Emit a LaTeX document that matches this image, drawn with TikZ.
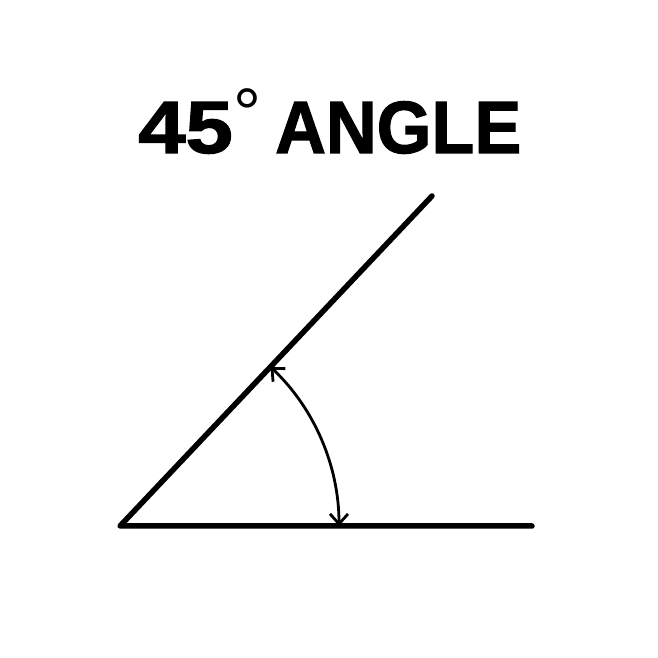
\documentclass[tikz,border=0pt]{standalone}
\usepackage{fontspec}
\setmainfont{Liberation Sans}
\newfontfamily\heavyfont[FakeBold=1.6]{Liberation Sans Bold}
\usetikzlibrary{arrows.meta,calc}
\tikzset{
  ray/.style={line width=5.5pt, line cap=round, line join=round},
  anglearc/.style={line width=2.8pt, {Straight Barb[length=10pt,width=18pt,line width=2.8pt]}-{Straight Barb[length=10pt,width=18pt,line width=2.8pt]}},
  titletext/.style={font=\fontsize{74}{80}\selectfont\heavyfont, inner sep=0pt, anchor=base west}
}
\begin{document}
\begin{tikzpicture}[x=1pt,y=1pt]
\useasboundingbox[fill=white] (0,0) rectangle (658,658);
\node[titletext] (title) at (138,505) {\makebox[137pt][l]{\scalebox{1.15}[1]{45}\hspace{1pt}\raisebox{15pt}{\normalfont\fontsize{70}{70}\selectfont °}}\scalebox{0.95}[1]{ANGLE}};
\coordinate (V) at (120,132);
\coordinate (H) at (532,132);
\coordinate (D) at (432,462);
\draw[ray] (H) -- (V) -- (D);
\draw[anglearc] ($(V)+(0:219)$) arc[start angle=0, end angle=46.6, radius=219];
\end{tikzpicture}
\end{document}
